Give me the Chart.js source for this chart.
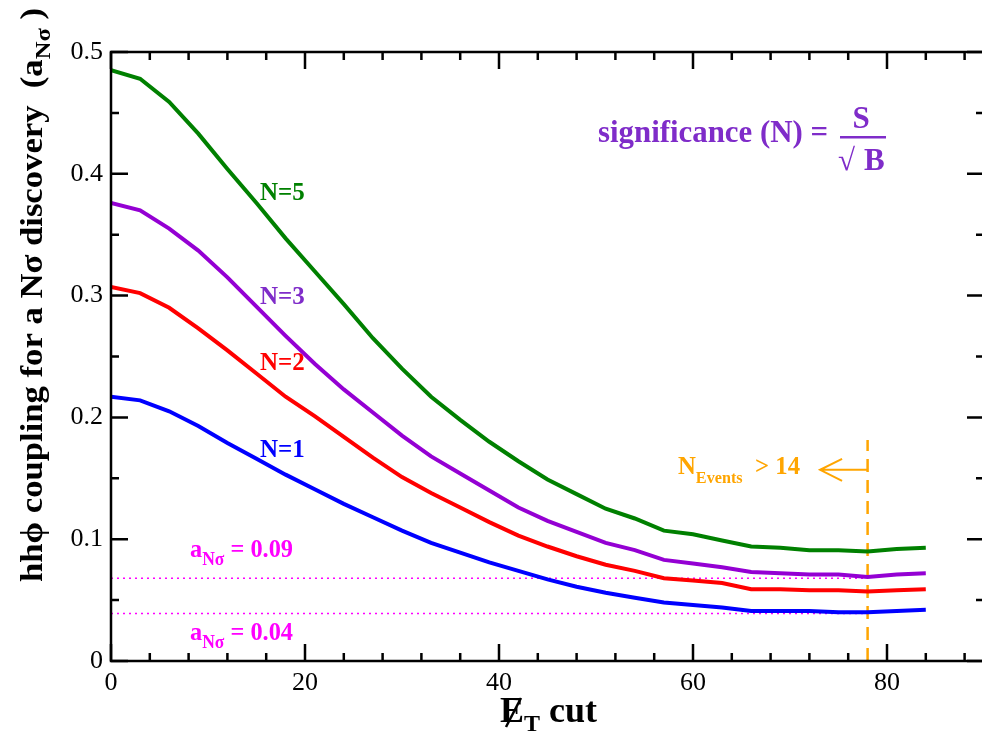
<!DOCTYPE html>
<html>
<head>
<meta charset="utf-8">
<script src="https://cdn.jsdelivr.net/npm/chart.js@4.4.1/dist/chart.umd.min.js"></script>
<style>
  html, body { margin: 0; padding: 0; background: #fff; overflow: hidden; }
  #wrap { width: 1000px; height: 734px; }
</style>
</head>
<body>
<div id="wrap"><canvas id="cutChart" width="1000" height="734"></canvas></div>
<script>
// valores
const etCut = [0, 3, 6, 9, 12, 15, 18, 21, 24, 27, 30, 33, 36, 39, 42, 45, 48, 51, 54, 57, 60, 63, 66, 69, 72, 75, 78, 81, 84];
const sigma5 = [0.485, 0.478, 0.459, 0.433, 0.404, 0.376, 0.347, 0.320, 0.293, 0.265, 0.240, 0.217, 0.198, 0.180, 0.164, 0.149, 0.137, 0.125, 0.117, 0.107, 0.104, 0.099, 0.094, 0.093, 0.091, 0.091, 0.090, 0.092, 0.093];
const sigma3 = [0.376, 0.370, 0.355, 0.337, 0.315, 0.291, 0.267, 0.244, 0.223, 0.204, 0.185, 0.168, 0.154, 0.140, 0.126, 0.115, 0.106, 0.097, 0.091, 0.083, 0.080, 0.077, 0.073, 0.072, 0.071, 0.071, 0.069, 0.071, 0.072];
const sigma2 = [0.307, 0.302, 0.290, 0.273, 0.255, 0.236, 0.217, 0.201, 0.184, 0.167, 0.151, 0.138, 0.126, 0.114, 0.103, 0.094, 0.086, 0.079, 0.074, 0.068, 0.066, 0.064, 0.059, 0.059, 0.058, 0.058, 0.057, 0.058, 0.059];
const sigma1 = [0.217, 0.214, 0.205, 0.193, 0.179, 0.166, 0.153, 0.141, 0.129, 0.118, 0.107, 0.097, 0.089, 0.081, 0.074, 0.067, 0.061, 0.056, 0.052, 0.048, 0.046, 0.044, 0.041, 0.041, 0.041, 0.040, 0.040, 0.041, 0.042];
const refLevels = [0.068, 0.039];      // linhas pontilhadas
const refRange = [0, 78];
const eventsCut = 78;                   // corte N_Events > 14
const eventsTop = 0.1815;
const xTicks = [0, 20, 40, 60, 80];
const yTicks = [0, 0.1, 0.2, 0.3, 0.4, 0.5];

const serif = '"Liberation Serif", "Times New Roman", serif';
const purpleTxt = '#7f2cc9';

function pts(ys) { return etCut.map((x, i) => ({ x: x, y: ys[i] })); }

function curve(ys, color) {
  return { data: pts(ys), borderColor: color, borderWidth: 4, pointRadius: 0, tension: 0, fill: false };
}

function hline(v, color) {
  return { data: [{ x: refRange[0], y: v }, { x: refRange[1], y: v }],
           borderColor: color, borderWidth: 1.5, borderDash: [2, 4], pointRadius: 0 };
}

// desenha texto com subscritos: runs = [texto, tamanho, deslocamento]
function drawRuns(ctx, runs, x, y, color, fitWidth) {
  ctx.save();
  ctx.fillStyle = color;
  ctx.textBaseline = 'alphabetic';
  ctx.textAlign = 'left';
  let w = 0;
  runs.forEach(r => { ctx.font = 'bold ' + r[1] + 'px ' + serif; w += ctx.measureText(r[0]).width; });
  ctx.translate(x, y);
  if (fitWidth) ctx.scale(fitWidth / w, 1);
  let cx = 0;
  runs.forEach(r => {
    ctx.font = 'bold ' + r[1] + 'px ' + serif;
    ctx.fillText(r[0], cx, r[2] || 0);
    cx += ctx.measureText(r[0]).width;
  });
  ctx.restore();
  return w;
}

const framePlugin = {
  id: 'frame',
  afterDatasetsDraw(chart) {
    const { ctx, chartArea: a, scales: { x, y } } = chart;
    ctx.save();
    ctx.strokeStyle = '#000';
    ctx.lineWidth = 2.5;
    ctx.strokeRect(a.left, a.top, a.right - a.left, a.bottom - a.top);
    ctx.beginPath();
    for (let v = 0; v <= 90; v += 4) {
      const px = x.getPixelForValue(v);
      const len = (v % 20 === 0) ? 17 : 8;
      ctx.moveTo(px, a.bottom); ctx.lineTo(px, a.bottom - len);
      ctx.moveTo(px, a.top); ctx.lineTo(px, a.top + len);
    }
    for (let k = 0; k <= 10; k++) {
      const py = y.getPixelForValue(k * 0.05);
      const len = (k % 2 === 0) ? 17 : 8;
      ctx.moveTo(a.left, py); ctx.lineTo(a.left + len, py);
      ctx.moveTo(a.right, py); ctx.lineTo(a.right - len, py);
    }
    ctx.stroke();

    // seta do corte de eventos
    const ay = y.getPixelForValue(0.157);
    const ax0 = x.getPixelForValue(eventsCut);
    const ax1 = x.getPixelForValue(73.1);
    ctx.strokeStyle = '#ffa500';
    ctx.lineWidth = 2;
    ctx.beginPath();
    ctx.moveTo(ax0, ay); ctx.lineTo(ax1, ay);
    ctx.moveTo(ax1 + 22, ay - 11); ctx.lineTo(ax1, ay); ctx.lineTo(ax1 + 22, ay + 11);
    ctx.stroke();
    ctx.restore();

    // rótulos das curvas
    drawRuns(ctx, [['N=5', 25]], 260, 200, '#008000');
    drawRuns(ctx, [['N=3', 25]], 260, 304, purpleTxt);
    drawRuns(ctx, [['N=2', 25]], 260, 370, '#ff0000');
    drawRuns(ctx, [['N=1', 25]], 260, 457, '#0000ff');

    drawRuns(ctx, [['a', 25], ['N\u03c3', 18, 8], [' = 0.09', 25]], 190, 557, '#ff00ff', 103);
    drawRuns(ctx, [['a', 25], ['N\u03c3', 18, 8], [' = 0.04', 25]], 190, 640, '#ff00ff', 103);

    drawRuns(ctx, [['N', 26], ['Events', 17, 9], ['  > 14', 26]], 678, 474, '#ffa500', 122);

    drawRuns(ctx, [['significance (N) =', 31]], 598, 142, purpleTxt, 230);
    ctx.save();
    ctx.fillStyle = purpleTxt;
    ctx.font = 'bold 31px ' + serif;
    ctx.textAlign = 'center';
    ctx.fillText('S', 861, 128);
    ctx.textAlign = 'left';
    ctx.fillText('\u221a', 838, 170);
    ctx.fillText('B', 864, 170);
    ctx.fillRect(840, 136, 46, 2.5);
    ctx.restore();

    // título do eixo x
    drawRuns(ctx, [['E', 36], ['T', 24, 9], [' cut', 36]], 500, 722, '#000', 97);
    ctx.save();
    ctx.strokeStyle = '#000';
    ctx.lineWidth = 2.5;
    ctx.beginPath();
    ctx.moveTo(506, 727); ctx.lineTo(521, 698);
    ctx.stroke();
    ctx.restore();

    // título do eixo y (rotacionado)
    ctx.save();
    ctx.translate(42, 582);
    ctx.rotate(-Math.PI / 2);
    drawRuns(ctx, [['hh\u03d5 coupling for a N\u03c3 discovery  (a', 31], ['N\u03c3', 22, 8], [' )', 31]], 0, 0, '#000', 574);
    ctx.restore();
  }
};

const ctx = document.getElementById('cutChart').getContext('2d');
const cutChart = new Chart(ctx, {
  type: 'line',
  data: {
    datasets: [
      curve(sigma5, '#008000'),
      curve(sigma3, '#9400d3'),
      curve(sigma2, '#ff0000'),
      curve(sigma1, '#0000ff'),
      hline(refLevels[0], '#ff00ff'),
      hline(refLevels[1], '#ff00ff'),
      { data: [{ x: eventsCut, y: 0 }, { x: eventsCut, y: eventsTop }],
        borderColor: '#ffa500', borderWidth: 2.5, borderDash: [13, 8], pointRadius: 0 }
    ]
  },
  options: {
    responsive: false,
    animation: false,
    layout: { padding: { top: 52, right: 16, left: 0, bottom: 0 } },
    plugins: { legend: { display: false }, tooltip: { enabled: false } },
    scales: {
      x: {
        type: 'linear', min: 0, max: 90,
        grid: { display: false, drawTicks: false },
        border: { display: false },
        afterFit: s => { s.height = 73; },
        afterBuildTicks: s => { s.ticks = xTicks.map(v => ({ value: v })); },
        ticks: { color: '#000', font: { family: serif, size: 26 }, padding: 7, maxRotation: 0 }
      },
      y: {
        min: 0, max: 0.5,
        grid: { display: false, drawTicks: false },
        border: { display: false },
        afterFit: s => { s.width = 111; },
        afterBuildTicks: s => { s.ticks = yTicks.map(v => ({ value: v })); },
        ticks: { color: '#000', font: { family: serif, size: 26 }, padding: 8,
                 callback: v => v === 0 ? '0' : v.toFixed(1) }
      }
    }
  },
  plugins: [framePlugin]
});
</script>
</body>
</html>
